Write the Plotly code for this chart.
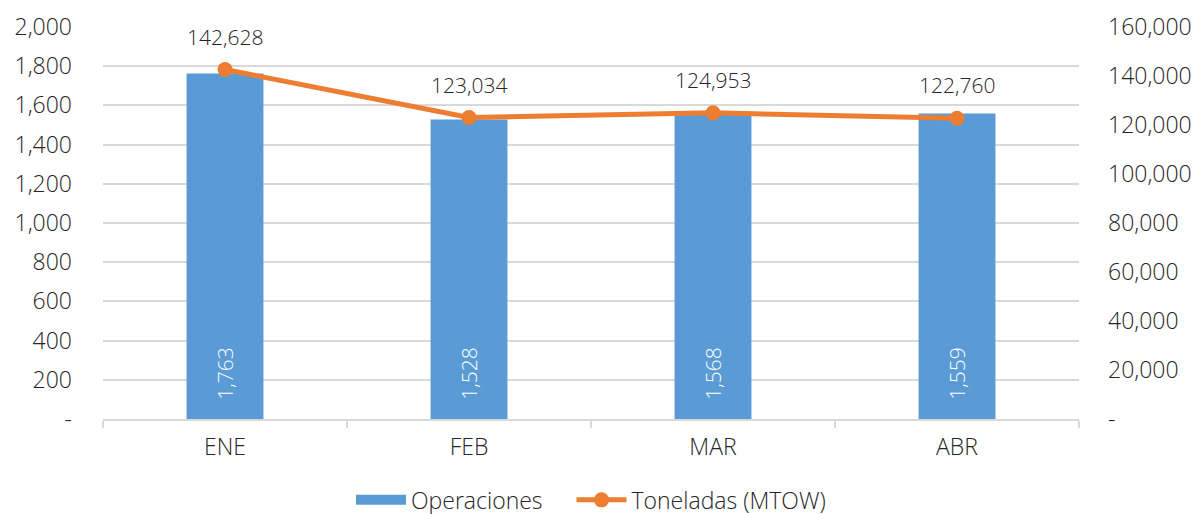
import plotly.graph_objects as go

months = ["ENE", "FEB", "MAR", "ABR"]
operaciones = [1763, 1528, 1568, 1559]
toneladas = [142628, 123034, 124953, 122760]

left_vals = [0, 200, 400, 600, 800, 1000, 1200, 1400, 1600, 1800, 2000]
left_text = ["-"] + [f"{v:,}" for v in left_vals[1:]]
right_vals = [0, 20000, 40000, 60000, 80000, 100000, 120000, 140000, 160000]
right_text = ["-"] + [f"{v:,}" for v in right_vals[1:]]

FONT = "Open Sans"
BLUE = "#5B9BD5"
ORANGE = "#ED7D31"
TXT = "#262626"
NB = "\u00a0"

fig = go.Figure()
fig.add_trace(go.Bar(
    x=months, y=operaciones, name="Operaciones",
    marker=dict(color=BLUE, line=dict(width=0)),
    width=0.315, showlegend=False,
    text=[NB * 3 + f"{v:,}" for v in operaciones],
    textposition="inside", insidetextanchor="start", textangle=-90,
    textfont=dict(color="white", size=21, family=FONT, weight=300),
    yaxis="y",
))
# legend entry for bars (wide rectangle swatch)
fig.add_trace(go.Scatter(
    x=[None], y=[None], name="Operaciones" + NB * 4, mode="lines",
    line=dict(color=BLUE, width=12), yaxis="y",
))
fig.add_trace(go.Scatter(
    x=months, y=toneladas, name="Toneladas (MTOW)",
    mode="lines+markers",
    line=dict(color=ORANGE, width=5),
    marker=dict(color=ORANGE, size=15),
    yaxis="y2",
))

for m, v in zip(months, toneladas):
    fig.add_annotation(
        x=m, y=v, xref="x", yref="y2", text=f"{v:,}", showarrow=False,
        yanchor="middle", yshift=33,
        font=dict(color=TXT, size=21, family=FONT, weight=300),
    )

fig.update_layout(
    width=1201, height=514,
    margin=dict(l=95, r=130, t=19, b=103),
    paper_bgcolor="white", plot_bgcolor="white",
    font=dict(family=FONT, size=23, color=TXT, weight=300),
    showlegend=True,
    legend=dict(orientation="h", x=0.5, xanchor="center",
                yref="container", y=0.043, yanchor="middle",
                font=dict(size=23, family=FONT, weight=300),
                itemwidth=50, tracegroupgap=0),
    xaxis=dict(
        type="category", showgrid=False, automargin=False,
        showline=True, linecolor="#D9D9D9", linewidth=2,
        ticks="outside", tickson="boundaries", ticklen=7, tickcolor="#D9D9D9",
        tickwidth=2,
        tickfont=dict(size=23, family=FONT, weight=300), ticklabelstandoff=6,
    ),
    yaxis=dict(
        range=[0, 2000], tickvals=left_vals, ticktext=left_text,
        showgrid=True, gridcolor="#D9D9D9", gridwidth=1.5, automargin=False,
        zeroline=False, showline=False, ticks="",
        ticklabelstandoff=30, tickfont=dict(size=23, family=FONT, weight=300),
    ),
    yaxis2=dict(
        range=[0, 160000], tickvals=right_vals, ticktext=right_text,
        overlaying="y", side="right", showgrid=False, automargin=False,
        zeroline=False, showline=False, ticks="",
        ticklabelstandoff=28, tickfont=dict(size=23, family=FONT, weight=300),
    ),
    bargap=0.685,
)

fig.write_html("out.html")
